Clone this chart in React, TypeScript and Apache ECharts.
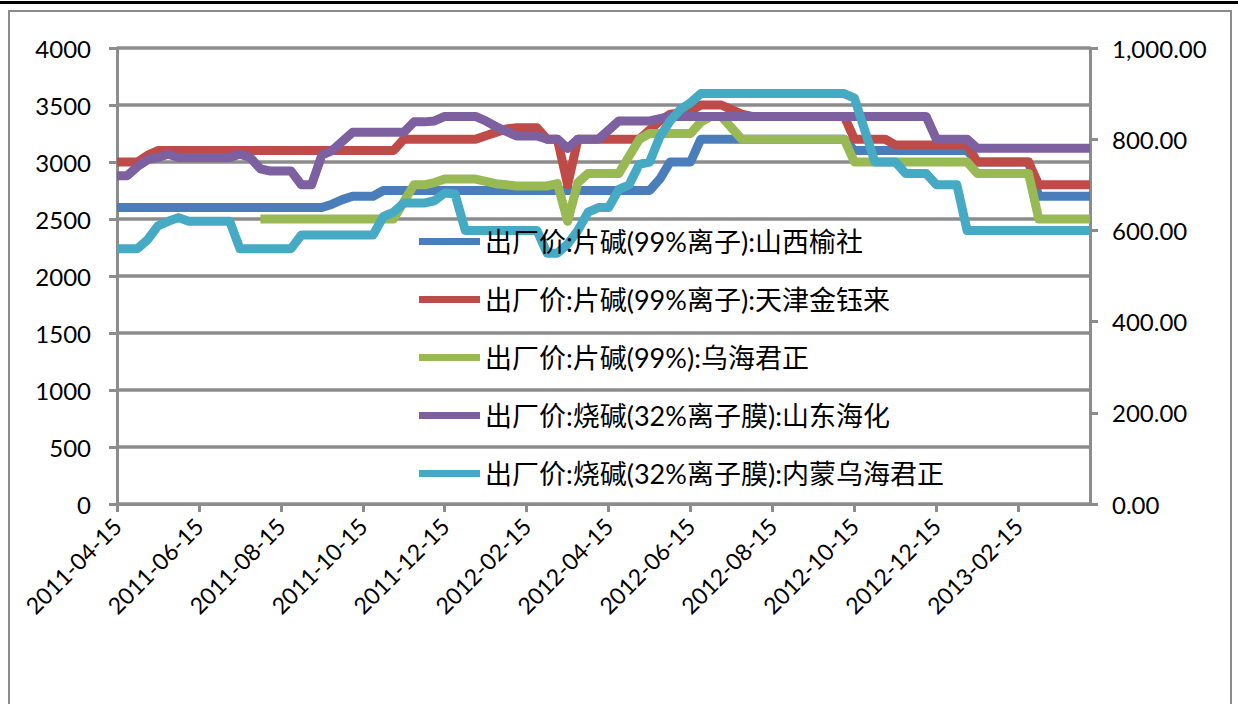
import React, { useEffect, useRef } from "react";
import * as echarts from "echarts";

// Category dates: the 1st, 8th, 15th and 22nd of each month, 2011-04-15 .. 2013-04-08
const DAYS_IN_MONTH = [1, 8, 15, 22];
function buildCategories(): string[] {
  const out: string[] = [];
  const pad = (n: number) => (n < 10 ? "0" + n : String(n));
  for (let y = 2011; y <= 2013; y++) {
    for (let m = 1; m <= 12; m++) {
      for (const d of DAYS_IN_MONTH) {
        const s = `${y}-${pad(m)}-${pad(d)}`;
        if (s >= "2011-04-15" && s <= "2013-04-08") out.push(s);
      }
    }
  }
  return out;
}
const categories = buildCategories();

const seriesNames = [
  "出厂价:片碱(99%离子):山西榆社",
  "出厂价:片碱(99%离子):天津金钰来",
  "出厂价:片碱(99%):乌海君正",
  "出厂价:烧碱(32%离子膜):山东海化",
  "出厂价:烧碱(32%离子膜):内蒙乌海君正",
];

// left axis
const shanxiYushe = [
  2600, 2600, 2600, 2600, 2600, 2600, 2600, 2600, 2600, 2600,
  2600, 2600, 2600, 2600, 2600, 2600, 2600, 2600, 2600, 2600,
  2600, 2630, 2670, 2700, 2700, 2700, 2750, 2750, 2750, 2750,
  2750, 2750, 2750, 2750, 2750, 2750, 2750, 2750, 2750, 2750,
  2750, 2750, 2750, 2750, 2750, 2750, 2750, 2750, 2750, 2750,
  2750, 2750, 2750, 2850, 3000, 3000, 3000, 3200, 3200, 3200,
  3200, 3200, 3200, 3200, 3200, 3200, 3200, 3200, 3200, 3200,
  3200, 3200, 3100, 3100, 3100, 3100, 3100, 3100, 3100, 3100,
  3100, 3100, 3100, 3100, 3000, 3000, 3000, 3000, 3000, 3000,
  2700, 2700, 2700, 2700, 2700, 2700,
];
const tianjinJinyulai = [
  3000, 3000, 3000, 3060, 3100, 3100, 3100, 3100, 3100, 3100,
  3100, 3100, 3100, 3100, 3100, 3100, 3100, 3100, 3100, 3100,
  3100, 3100, 3100, 3100, 3100, 3100, 3100, 3100, 3200, 3200,
  3200, 3200, 3200, 3200, 3200, 3200, 3230, 3260, 3290, 3300,
  3300, 3300, 3200, 3200, 2800, 3200, 3200, 3200, 3200, 3200,
  3200, 3200, 3280, 3360, 3420, 3430, 3450, 3500, 3500, 3500,
  3460, 3420, 3400, 3400, 3400, 3400, 3400, 3400, 3400, 3400,
  3400, 3400, 3200, 3200, 3200, 3200, 3150, 3150, 3150, 3150,
  3150, 3150, 3150, 3150, 3000, 3000, 3000, 3000, 3000, 3000,
  2800, 2800, 2800, 2800, 2800, 2800,
];
const wuhaiJunzheng = [
  null, null, null, null, null, null, null, null, null, null,
  null, null, null, null, 2500, 2500, 2500, 2500, 2500, 2500,
  2500, 2500, 2500, 2500, 2500, 2500, 2500, 2500, 2650, 2800,
  2800, 2820, 2850, 2850, 2850, 2850, 2830, 2810, 2800, 2790,
  2790, 2790, 2790, 2810, 2480, 2820, 2900, 2900, 2900, 2900,
  3050, 3200, 3250, 3250, 3250, 3250, 3250, 3350, 3400, 3400,
  3300, 3200, 3200, 3200, 3200, 3200, 3200, 3200, 3200, 3200,
  3200, 3200, 3000, 3000, 3000, 3000, 3000, 3000, 3000, 3000,
  3000, 3000, 3000, 3000, 2900, 2900, 2900, 2900, 2900, 2900,
  2500, 2500, 2500, 2500, 2500, 2500,
];
// right axis
const shandongHaihua = [
  720, 720, 740, 755, 760, 767, 760, 760, 760, 760,
  760, 760, 767, 760, 735, 730, 730, 730, 700, 700,
  765, 775, 795, 815, 815, 815, 815, 815, 815, 838,
  838, 840, 850, 850, 850, 850, 840, 828, 817, 807,
  807, 807, 800, 800, 780, 800, 800, 800, 820, 840,
  840, 840, 840, 845, 850, 850, 850, 850, 850, 850,
  850, 850, 850, 850, 850, 850, 850, 850, 850, 850,
  850, 850, 850, 850, 850, 850, 850, 850, 850, 850,
  800, 800, 800, 800, 780, 780, 780, 780, 780, 780,
  780, 780, 780, 780, 780, 780,
];
const neimengWuhai = [
  560, 560, 560, 580, 610, 620, 628, 620, 620, 620,
  620, 620, 560, 560, 560, 560, 560, 560, 590, 590,
  590, 590, 590, 590, 590, 590, 630, 640, 660, 660,
  660, 665, 682, 680, 600, 600, 600, 600, 600, 600,
  600, 600, 550, 550, 570, 600, 640, 650, 650, 690,
  700, 745, 750, 805, 840, 865, 880, 900, 900, 900,
  900, 900, 900, 900, 900, 900, 900, 900, 900, 900,
  900, 900, 890, 820, 750, 750, 750, 725, 725, 725,
  700, 700, 700, 600, 600, 600, 600, 600, 600, 600,
  600, 600, 600, 600, 600, 600,
];

const seriesData = [shanxiYushe, tianjinJinyulai, wuhaiJunzheng, shandongHaihua, neimengWuhai];
const seriesAxis = [0, 0, 0, 1, 1];
const colors = ["#4a7ebb", "#be4b48", "#98b954", "#7d60a0", "#46aac5"];

const GRAY = "#8c8c8c";
const FONT = "Lato, 'Noto Sans CJK SC', sans-serif";

const isLabeledDate = (_i: number, v: string) =>
  v.slice(8) === "15" && Number(v.slice(5, 7)) % 2 === 0;

const fmtRight = (v: number) => {
  const s = v.toFixed(2);
  const [int, dec] = s.split(".");
  return int.replace(/\B(?=(\d{3})+(?!\d))/g, ",") + "." + dec;
};

export default function App() {
  const ref = useRef<HTMLDivElement>(null);
  useEffect(() => {
    document.body.style.margin = "0";
    const chart = echarts.init(ref.current!, undefined, { renderer: "svg" });
    chart.setOption({
      animation: false,
      backgroundColor: "#ffffff",
      color: colors,
      grid: { left: 117, right: 148, top: 48, bottom: 200, containLabel: false },
      graphic: [
        { type: "rect", shape: { x: 0, y: 1, width: 1238, height: 3 }, style: { fill: "#000" }, silent: true },
        {
          type: "rect",
          shape: { x: 9, y: 11, width: 1222, height: 720 },
          style: { fill: "none", stroke: GRAY, lineWidth: 2 },
          silent: true,
        },
      ],
      legend: {
        orient: "vertical",
        left: 414,
        top: 223,
        icon: "rect",
        itemWidth: 61,
        itemHeight: 7,
        itemGap: 31,
        itemTextGap: 0,
        textStyle: { fontSize: 27, color: "#000", fontFamily: FONT },
        data: seriesNames,
      },
      xAxis: {
        type: "category",
        data: categories,
        boundaryGap: false,
        axisLine: { lineStyle: { color: GRAY, width: 3 } },
        axisTick: { show: true, interval: isLabeledDate, length: 8, lineStyle: { color: GRAY, width: 3 } },
        axisLabel: {
          interval: isLabeledDate,
          rotate: 45,
          margin: 18,
          fontSize: 23,
          color: "#000",
          fontFamily: FONT,
        },
        splitLine: { show: false },
      },
      yAxis: [
        {
          type: "value",
          min: 0,
          max: 4000,
          interval: 500,
          position: "left",
          axisLine: { show: true, lineStyle: { color: GRAY, width: 3 } },
          axisTick: { show: true, length: 8, lineStyle: { color: GRAY, width: 3 } },
          axisLabel: {
            margin: 26,
            fontSize: 24,
            color: "#000",
            fontFamily: FONT,
            formatter: (v: number) => String(v),
          },
          splitLine: { show: true, lineStyle: { color: GRAY, width: 3.5 } },
        },
        {
          type: "value",
          min: 0,
          max: 1000,
          interval: 200,
          position: "right",
          axisLine: { show: true, lineStyle: { color: GRAY, width: 3 } },
          axisTick: { show: true, length: 8, lineStyle: { color: GRAY, width: 3 } },
          axisLabel: { margin: 22, fontSize: 24, color: "#000", fontFamily: FONT, formatter: fmtRight },
          splitLine: { show: false },
        },
      ],
      series: seriesNames.map((name, i) => ({
        name,
        type: "line",
        yAxisIndex: seriesAxis[i],
        data: seriesData[i],
        symbol: "none",
        showSymbol: false,
        connectNulls: false,
        lineStyle: { width: 9, color: colors[i], join: "round", cap: "butt" },
        itemStyle: { color: colors[i] },
      })),
    });
    return () => chart.dispose();
  }, []);
  return <div ref={ref} style={{ width: 1238, height: 704 }} />;
}
